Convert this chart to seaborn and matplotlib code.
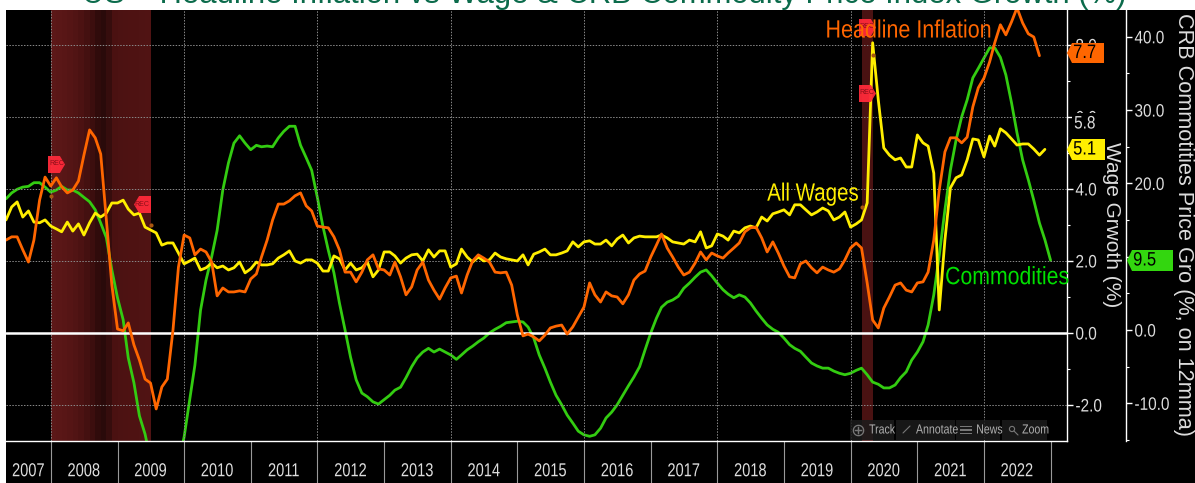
import matplotlib
matplotlib.use('Agg')
import matplotlib.pyplot as plt
import matplotlib.patches as mpatches
import matplotlib.patheffects as pe
from matplotlib.transforms import Affine2D
import pandas as pd
import seaborn as sns

title = 'US – Headline Inflation vs Wage & CRB Commodity Price Index Growth (%)'
years = list(range(2007, 2023))

# monthly values, first point May 2007
inflation = [
    2.58, 2.67, 2.67, 2.31, 1.97, 2.58, 3.69, 4.33, 4.08, 4.31, 4.06, 3.89, 3.97, 4.22, 4.94, 5.64,
    5.42, 4.97, 3.14, 1.33, 0.11, 0.06, 0.28, -0.33, -0.75, -1.28, -1.39, -2.11, -1.50, -1.28, 0.08, 1.83,
    2.72, 2.64, 2.17, 2.33, 2.25, 1.97, 1.03, 1.25, 1.14, 1.14, 1.17, 1.14, 1.50, 1.64, 2.11, 2.58,
    3.14, 3.58, 3.58, 3.67, 3.81, 3.89, 3.53, 3.39, 2.97, 2.94, 2.92, 2.67, 2.31, 1.69, 1.69, 1.42,
    1.69, 2.03, 2.17, 1.78, 1.75, 1.61, 1.97, 1.56, 1.06, 1.28, 1.75, 1.97, 1.47, 1.19, 0.94, 1.25,
    1.53, 1.58, 1.11, 1.61, 2.00, 2.17, 2.08, 1.97, 1.69, 1.67, 1.69, 1.33, 0.50, -0.08, -0.03, -0.11,
    -0.22, -0.06, 0.14, 0.19, 0.22, -0.03, 0.17, 0.44, 0.72, 1.39, 1.06, 0.86, 1.14, 1.03, 1.00, 0.81,
    1.06, 1.47, 1.64, 1.72, 2.11, 2.44, 2.75, 2.36, 2.11, 1.83, 1.61, 1.69, 1.94, 2.25, 2.03, 2.22,
    2.14, 2.08, 2.22, 2.36, 2.50, 2.81, 2.92, 2.94, 2.64, 2.25, 2.53, 2.22, 1.86, 1.56, 1.53, 1.92,
    2.00, 1.81, 1.67, 1.83, 1.75, 1.69, 1.78, 2.03, 2.36, 2.50, 2.36, 1.39, 0.36, 0.14, 0.69, 1.00,
    1.33, 1.39, 1.19, 1.14, 1.39, 1.42, 1.69, 2.58, 3.97, 5.03, 5.42, 5.42, 5.28, 5.44, 6.28, 6.81,
    7.08, 7.53, 8.06, 8.56, 8.28, 8.64, 9.03, 8.61, 8.31, 8.22, 7.7,
]
wages = [
    3.14, 3.50, 3.64, 3.22, 3.39, 3.08, 3.06, 3.14, 2.97, 2.89, 2.81, 3.08, 2.83, 3.03, 2.72, 3.06,
    3.33, 3.22, 3.33, 3.61, 3.61, 3.69, 3.44, 3.28, 3.33, 2.94, 2.86, 2.78, 2.44, 2.50, 2.50, 2.22,
    1.92, 2.00, 2.08, 1.75, 1.81, 1.94, 1.81, 1.86, 1.75, 1.81, 1.97, 1.67, 1.78, 1.97, 1.89, 1.89,
    1.92, 2.08, 2.17, 2.28, 2.00, 1.94, 2.03, 2.03, 1.94, 1.72, 1.72, 2.14, 2.06, 1.75, 1.94, 1.75,
    1.81, 1.97, 1.56, 1.75, 2.25, 2.25, 2.14, 1.94, 2.08, 2.17, 2.19, 2.00, 2.31, 2.11, 2.28, 2.28,
    1.83, 1.92, 2.33, 2.11, 1.97, 2.11, 2.00, 2.03, 2.22, 2.11, 2.06, 2.03, 2.00, 2.17, 1.89, 2.19,
    2.25, 2.33, 2.17, 2.17, 2.22, 2.28, 2.53, 2.39, 2.53, 2.56, 2.47, 2.47, 2.58, 2.42, 2.61, 2.72,
    2.50, 2.64, 2.69, 2.67, 2.67, 2.67, 2.72, 2.64, 2.53, 2.50, 2.47, 2.58, 2.53, 2.81, 2.36, 2.42,
    2.75, 2.69, 2.58, 2.83, 2.78, 2.92, 2.97, 2.92, 3.22, 3.11, 3.31, 3.36, 3.42, 3.28, 3.56, 3.56,
    3.42, 3.28, 3.36, 3.47, 3.39, 3.14, 3.22, 3.36, 2.94, 3.03, 3.14, 3.61, 8.06, 6.47, 5.14, 4.94,
    4.81, 4.86, 4.61, 4.61, 5.50, 5.28, 5.19, 4.44, 0.64, 2.58, 4.03, 4.31, 4.39, 4.81, 5.39, 5.36,
    4.89, 5.47, 5.19, 5.67, 5.56, 5.39, 5.22, 5.25, 5.25, 5.11, 4.94, 5.1,
]
commodities = [
    17.9, 18.7, 19.2, 19.5, 19.6, 20.1, 20.1, 19.5, 18.8, 19.1, 19.6, 19.1, 19.1, 18.7, 18.1, 17.5,
    16.4, 14.6, 12.6, 8.2, 4.4, 1.4, -3.8, -7.2, -11.7, -14.2, -17.7, -21.8, -23.9, -24.6, -21.8, -18.4,
    -14.6, -9.5, -4.8, 2.7, 6.8, 10.0, 13.6, 19.1, 22.8, 25.5, 26.5, 25.5, 24.6, 25.2, 25.0, 25.1,
    25.0, 26.2, 27.1, 27.8, 27.8, 25.2, 23.5, 21.8, 18.1, 14.1, 10.9, 7.8, 3.7, 0.0, -3.7, -6.8,
    -8.6, -9.1, -9.8, -10.1, -9.5, -8.9, -8.2, -7.8, -6.5, -5.0, -3.8, -3.0, -2.5, -3.0, -2.6, -3.0,
    -3.4, -4.0, -3.4, -2.7, -2.2, -1.6, -1.1, -0.4, 0.1, 0.5, 1.0, 1.1, 1.2, 1.1, 0.4, -1.1,
    -3.4, -5.2, -7.1, -8.9, -10.2, -11.6, -12.7, -13.8, -14.3, -14.5, -14.3, -13.4, -12.0, -11.2, -10.2, -8.9,
    -7.6, -6.4, -5.0, -2.7, -0.4, 1.6, 3.1, 3.8, 4.1, 4.6, 5.7, 6.4, 7.2, 7.9, 8.2, 7.4,
    6.4, 5.5, 4.9, 4.4, 4.8, 4.5, 3.7, 2.6, 1.6, 0.7, 0.1, -0.3, -1.1, -2.0, -2.5, -2.9,
    -3.7, -4.5, -4.9, -5.2, -5.2, -5.6, -5.9, -6.1, -5.9, -5.5, -5.2, -6.1, -7.1, -7.4, -7.9, -7.9,
    -7.5, -6.5, -5.7, -4.1, -3.0, -1.6, 0.7, 4.8, 10.2, 16.4, 21.8, 25.9, 29.1, 31.4, 34.4, 35.7,
    37.1, 38.5, 38.5, 37.2, 34.8, 31.0, 26.9, 23.2, 20.5, 17.7, 14.6, 12.3, 9.5,
]

# REC flags: month, wage axis value, direction
flag_months = ['2008-02-01', '2009-05-15', '2020-04-01', '2020-04-01']
flag_values = [4.70, 3.58, 6.67, 8.50]
flag_right = [True, False, True, True]
# little dots under the flags
dot_months = ['2008-01-01', '2009-07-01', '2020-03-01', '2020-05-01']
dot_values = [3.81, 3.0, 3.5, 7.72]

recession_shades = ['#5c1818', '#5a1717', '#581616', '#551515', '#511414', '#4c1212', '#441010', '#3c0e0e',
                    '#300b0b', '#2a0a0a', '#360d0d', '#4a1111', '#4c1212', '#4d1212', '#4e1212', '#4e1212',
                    '#4f1313', '#501313']

ORANGE = '#ff6600'
YELLOW = '#ffee00'
GREEN = '#33cc11'
TEXT = '#dddddd'
W, H = 1195, 483


class Condense(pe.AbstractPathEffect):
    """Squeezes text along its baseline, no condensed font is installed."""

    def __init__(self, sx, anchor='center'):
        super().__init__()
        self.sx = sx
        self.anchor = anchor

    def draw_path(self, renderer, gc, tpath, affine, rgbFace=None):
        ext = tpath.get_extents()
        cx = ext.x0 if self.anchor == 'left' else (ext.x0 + ext.x1) / 2
        local = Affine2D().translate(-cx, 0).scale(self.sx, 1).translate(cx, 0)
        renderer.draw_path(gc, tpath, local + affine, rgbFace)


def fx(px):
    return px / W


def fy(py):
    return 1 - py / H


sns.set_theme(style='dark')
plt.rcParams['font.family'] = ['Liberation Sans']

fig = plt.figure(figsize=(W / 100, H / 100), dpi=100, facecolor='white')
fig.add_artist(mpatches.Rectangle((fx(6), 0), fx(W - 6), fy(10), transform=fig.transFigure,
                                  facecolor='black', edgecolor='none', zorder=-5))

rect = [fx(6), fy(441), fx(1067 - 6), (441 - 10) / H]
crb = fig.add_axes(rect, facecolor='black')
ax = fig.add_axes(rect, facecolor='none')
crb.set_zorder(1)
ax.set_zorder(2)

infl_df = pd.DataFrame({'date': pd.date_range('2007-05-01', periods=len(inflation), freq='MS'), 'value': inflation})
wage_df = pd.DataFrame({'date': pd.date_range('2007-05-01', periods=len(wages), freq='MS'), 'value': wages})
comm_df = pd.DataFrame({'date': pd.date_range('2007-05-01', periods=len(commodities), freq='MS'), 'value': commodities})

xmin, xmax = pd.Timestamp('2007-05-01'), pd.Timestamp('2023-04-01')

# recession bands sit behind everything
for d, c in zip(pd.date_range('2008-01-01', periods=len(recession_shades), freq='MS'), recession_shades):
    crb.axvspan(d, d + pd.DateOffset(months=1), color=c, lw=0, zorder=0)
crb.axvspan(pd.Timestamp('2020-03-01'), pd.Timestamp('2020-05-01'), color='#4a1212', lw=0, zorder=0)

sns.lineplot(data=comm_df, x='date', y='value', ax=crb, color=GREEN, linewidth=2.0, errorbar=None, zorder=3)
sns.lineplot(data=wage_df, x='date', y='value', ax=ax, color=YELLOW, linewidth=2.0, errorbar=None, zorder=3)
sns.lineplot(data=infl_df, x='date', y='value', ax=ax, color=ORANGE, linewidth=2.0, errorbar=None, zorder=4)

ax.set_xlim(xmin, xmax)
crb.set_xlim(xmin, xmax)
ax.set_ylim(-3.0, 8.97)
crb.set_ylim(-15.14, 43.66)
ax.set_xlabel('')
ax.set_ylabel('')
crb.set_xlabel('')
crb.set_ylabel('')

# grid, dotted, only every other year
for v in [-2, 2, 4, 6, 8]:
    ax.axhline(v, color='#8a8a8a', lw=0.7, ls=(0, (1.5, 1.5)), zorder=1)
for y in years[1::2]:
    ax.axvline(pd.Timestamp(f'{y}-01-01'), color='#8a8a8a', lw=0.7, ls=(0, (1.5, 1.5)), zorder=1)
ax.axhline(0, color='white', lw=1.8, zorder=2)

# time axis
tick_dates = [pd.Timestamp(f'{y}-01-01') for y in years[1:]] + [pd.Timestamp('2023-01-01')]
ax.set_xticks(tick_dates)
ax.set_xticklabels([])
ax.tick_params(axis='x', which='major', length=30, width=0.8, color='#999999', bottom=True)
label_dates = [pd.Timestamp('2007-09-01')] + [pd.Timestamp(f'{y}-07-01') for y in years[1:]]
ax.set_xticks(label_dates, minor=True)
ax.set_xticklabels([str(y) for y in years], minor=True)
ax.tick_params(axis='x', which='minor', length=0, pad=16, labelsize=13.5, labelcolor=TEXT, bottom=False)
for lab in ax.get_xticklabels(minor=True):
    lab.set_path_effects([Condense(0.78)])
crb.set_xticks([])

# wage axis
ax.yaxis.tick_right()
ax.set_yticks([-2, 0, 2, 4, 6, 8])
ax.set_yticklabels(['-2.0', '0.0', '2.0', '4.0', '6.0', '8.0'])
ax.set_yticks([-1, 1, 3, 5, 7], minor=True)
ax.tick_params(axis='y', which='major', length=4, width=1, color='white', labelcolor=TEXT, labelsize=13, pad=2, right=True)
ax.tick_params(axis='y', which='minor', length=2.5, width=0.8, color='white', right=True)
for s in ['left', 'top']:
    ax.spines[s].set_visible(False)
for s in ['right', 'bottom']:
    ax.spines[s].set_color('white')
    ax.spines[s].set_linewidth(1)

# CRB axis
crb.yaxis.tick_right()
crb.spines['right'].set_position(('outward', 42.5))
crb.spines['right'].set_color('white')
crb.spines['right'].set_linewidth(1)
for s in ['left', 'top', 'bottom']:
    crb.spines[s].set_visible(False)
crb.set_yticks([-10, 0, 10, 20, 30, 40])
crb.set_yticklabels(['-10.0', '0.0', '10.0', '20.0', '30.0', '40.0'])
crb.set_yticks([-15, -5, 5, 15, 25, 35], minor=True)
crb.tick_params(axis='y', which='major', length=4, width=1, color='white', labelcolor=TEXT, labelsize=13, pad=2, right=True)
crb.tick_params(axis='y', which='minor', length=2.5, width=0.8, color='white', right=True)
for lab in ax.get_yticklabels() + crb.get_yticklabels():
    lab.set_path_effects([Condense(0.85, 'left')])

# REC flags
right_flag = [(-1, -1), (0.4, -1), (1, 0), (0.4, 1), (-1, 1), (-1, -1)]
left_flag = [(1, -1), (-0.4, -1), (-1, 0), (-0.4, 1), (1, 1), (1, -1)]
ax.scatter(pd.to_datetime(dot_months), dot_values, s=9, color='#a8560f', lw=0, zorder=3)
for m, v, r in zip(flag_months, flag_values, flag_right):
    d = pd.Timestamp(m)
    ax.scatter([d], [v], marker=right_flag if r else left_flag, s=150, color='#ff2a3a', lw=0, zorder=3, alpha=0.95)
    ax.text(d, v, 'REC', color='#8a0f18', fontsize=5, ha='center', va='center', zorder=3)

# series names
names = [('2019-08-15', 8.4, 'Headline Inflation', ORANGE, 0.86),
         ('2018-10-01', 3.87, 'All Wages', YELLOW, 0.82),
         ('2021-06-01', 1.55, 'Commodities', '#00e000', 0.85)]
for d, v, txt, col, sx in names:
    t = ax.text(pd.Timestamp(d), v, txt, color=col, fontsize=18, va='center', ha='left', zorder=6)
    t.set_path_effects([Condense(sx, 'left')])

# overlays in figure pixels
overlay = fig.add_axes([0, 0, 1, 1], facecolor='none', zorder=5)
overlay.set_xlim(0, W)
overlay.set_ylim(H, 0)
overlay.axis('off')


def tag(x0, x1, y0, y1, color, text):
    tip = x0 - 5
    mid = (y0 + y1) / 2
    overlay.add_patch(mpatches.Polygon([(tip, mid), (x0, y0), (x1, y0), (x1, y1), (x0, y1)], closed=True,
                                       facecolor=color, edgecolor='none'))
    t = overlay.text(x0 + 1, mid + 0.5, text, color='black', fontsize=14, ha='left', va='center')
    t.set_path_effects([Condense(0.85, 'left')])


tag(1072, 1104, 43, 63, ORANGE, '7.7')
tag(1072, 1105, 139, 160, '#ffee00', '5.1')
tag(1132, 1173, 250, 271, '#33d60f', '9.5')
t58 = overlay.text(1074, 124, '5.8', color=TEXT, fontsize=13, ha='left', va='center',
                   bbox=dict(facecolor='black', edgecolor='none', pad=1.5))
t58.set_path_effects([Condense(0.85, 'left')])

# chart toolbar
for x0, x1, label, tx in [(850, 894, 'Track', 869), (896, 955, 'Annotate', 916), (956, 1000, 'News', 976), (1002, 1047, 'Zoom', 1022)]:
    overlay.add_patch(mpatches.Rectangle((x0, 420), x1 - x0, 20, facecolor='#1c1c1c', edgecolor='none', alpha=0.85))
    t = overlay.text(tx, 430.5, label, color='#b0b0b0', fontsize=9.5, ha='left', va='center')
    t.set_path_effects([Condense(0.8, 'left')])
overlay.scatter([858], [430], marker='$\u2295$', s=70, color='#777777', lw=0)
overlay.plot([903, 910], [433, 426], color='#777777', lw=0.8)
overlay.scatter([966], [430], marker='$\u2261$', s=70, color='#777777', lw=0)
overlay.scatter([1012], [429], marker='o', s=14, facecolor='none', edgecolor='#777777', lw=0.8)
overlay.plot([1014, 1018], [431, 435], color='#777777', lw=0.8)

# axis titles
overlay.text(1112, 225, 'Wage Grwoth (%)', color=TEXT, fontsize=15, rotation=-90, ha='center', va='center')
overlay.text(1184, 225, 'CRB Commotities Price Gro (%, on 12mma)', color=TEXT, fontsize=15.6, rotation=-90, ha='center', va='center')

fig.text(fx(82), fy(3), title, color='#0b6b4b', fontsize=22.35, ha='left', va='baseline')

fig.savefig('out.png', dpi=100, facecolor='white')
